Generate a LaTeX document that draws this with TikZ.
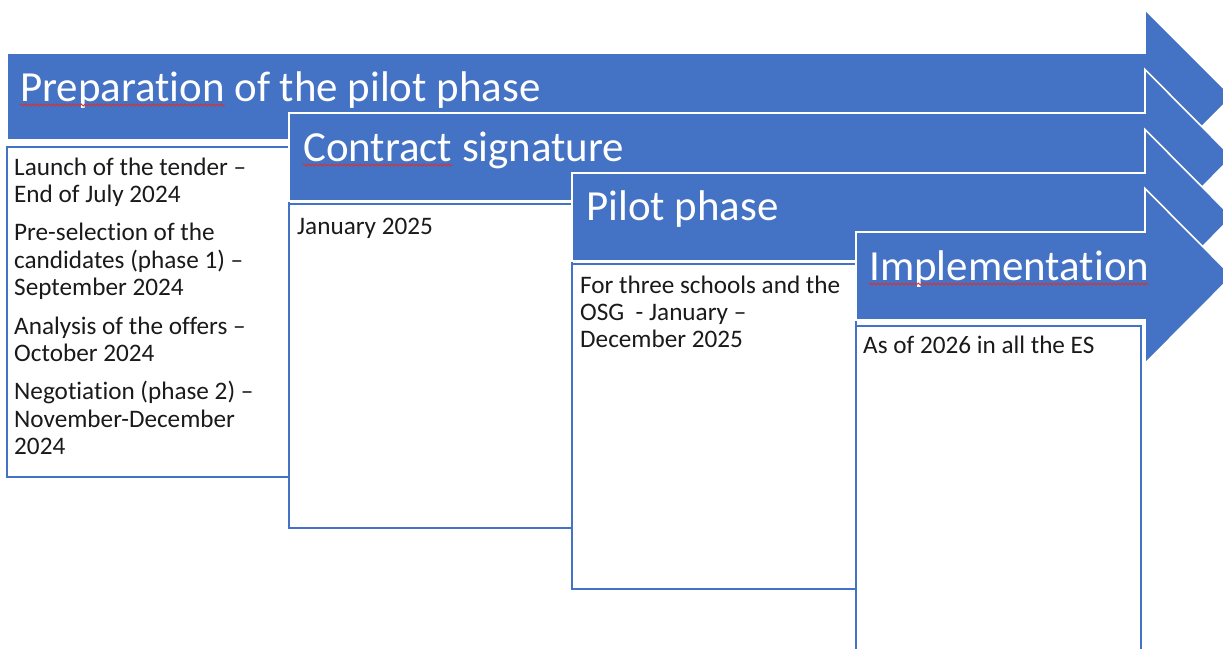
\documentclass[tikz,border=0pt]{standalone}
\usepackage{fontspec}
\setmainfont{Carlito}[Ligatures=NoCommon]
\usetikzlibrary{decorations.pathmorphing,calc}
\definecolor{accent}{HTML}{4472C4}
\definecolor{inktext}{HTML}{1A1A1A}
\definecolor{spellred}{HTML}{E0302A}
\newcommand{\ttlfont}{\fontsize{42.9}{50}\selectfont}
\newcommand{\bodyfont}{\fontsize{25.2}{27.4}\selectfont}
\newlength{\sqwA}
\newlength{\sqwB}
\newlength{\sqwC}
% one phase band: left x, top y, bottom y (y grows downward)
\newcommand{\phasearrow}[3]{%
  \path[band] (#1,#2) -- (1145,#2) -- (1145,{#2-43.5}) -- (1232,{(#2+#3)/2})
    -- (1145,{#3+43.5}) -- (1145,#3) -- (#1,#3) -- cycle;}

\begin{document}
% widths of the words that carry a spell-check mark
\settowidth{\sqwA}{\ttlfont Preparation}%
\settowidth{\sqwB}{\ttlfont Contract}%
\settowidth{\sqwC}{\ttlfont Implementation}%
\begin{tikzpicture}[x=1pt,y=-1pt,
  band/.style={fill=accent, draw=white, line width=1.6pt, line join=miter},
  panel/.style={draw=accent, fill=white, line width=1.3pt, anchor=north west,
                inner sep=0pt, outer sep=0pt},
  heading/.style={anchor=base west, inner sep=0pt, text=white, font=\ttlfont},
  body/.style={anchor=base west, inner sep=0pt, text=inktext, font=\bodyfont},
  squiggle/.style={draw=spellred, line width=1pt, decorate,
                   decoration={snake, amplitude=1pt, segment length=4pt}}
]
\useasboundingbox (0,0) rectangle (1223,648);
\clip (0,0) rectangle (1223,648);

% phase 1
\phasearrow{7}{53}{140}
\node[heading] (h1) at (20,101) {Preparation of the pilot phase};
\node[panel, minimum width=282pt, minimum height=330pt] (box1) at (7,147) {};
\node[body] (b1) at (14,175) {\parbox[t]{272pt}{\bodyfont
  Launch of the tender –\\End of July 2024\\[11pt]
  Pre-selection of the\\candidates (phase 1) –\\September 2024\\[11pt]
  Analysis of the offers –\\October 2024\\[11pt]
  Negotiation (phase 2) –\\November-December\\2024}};

% phase 2
\phasearrow{289}{113}{201}
\node[heading] (h2) at (303,161) {Contract signature};
\node[panel, minimum width=283pt, minimum height=324pt] (box2) at (289,204) {};
\node[body] (b2) at (297,234) {January 2025};

% phase 3
\phasearrow{572}{173}{261}
\node[heading] (h3) at (586,220) {Pilot phase};
\node[panel, minimum width=284pt, minimum height=325pt] (box3) at (572,264) {};
\node[body] (b3) at (580,293) {\parbox[t]{272pt}{\bodyfont
  For three schools and the\\OSG\ \ - January –\\December 2025}};

% phase 4
\phasearrow{856}{232}{320}
\node[heading] (h4) at (869,280) {Implementation};
\node[panel, minimum width=285pt, minimum height=400pt] (box4) at (856,326) {};
\node[body] (b4) at (863,353) {As of 2026 in all the ES};

% spell-check marks (offsets in canvas units: negative is downward)
\draw[squiggle] ($(h1.base west)+(0pt,-4pt)$) -- ($(h1.base west)+(\sqwA,-4pt)$);
\draw[squiggle] ($(h2.base west)+(0pt,-4pt)$) -- ($(h2.base west)+(\sqwB,-4pt)$);
\draw[squiggle] ($(h4.base west)+(0pt,-4pt)$) -- ($(h4.base west)+(\sqwC,-4pt)$);
\end{tikzpicture}
\end{document}
